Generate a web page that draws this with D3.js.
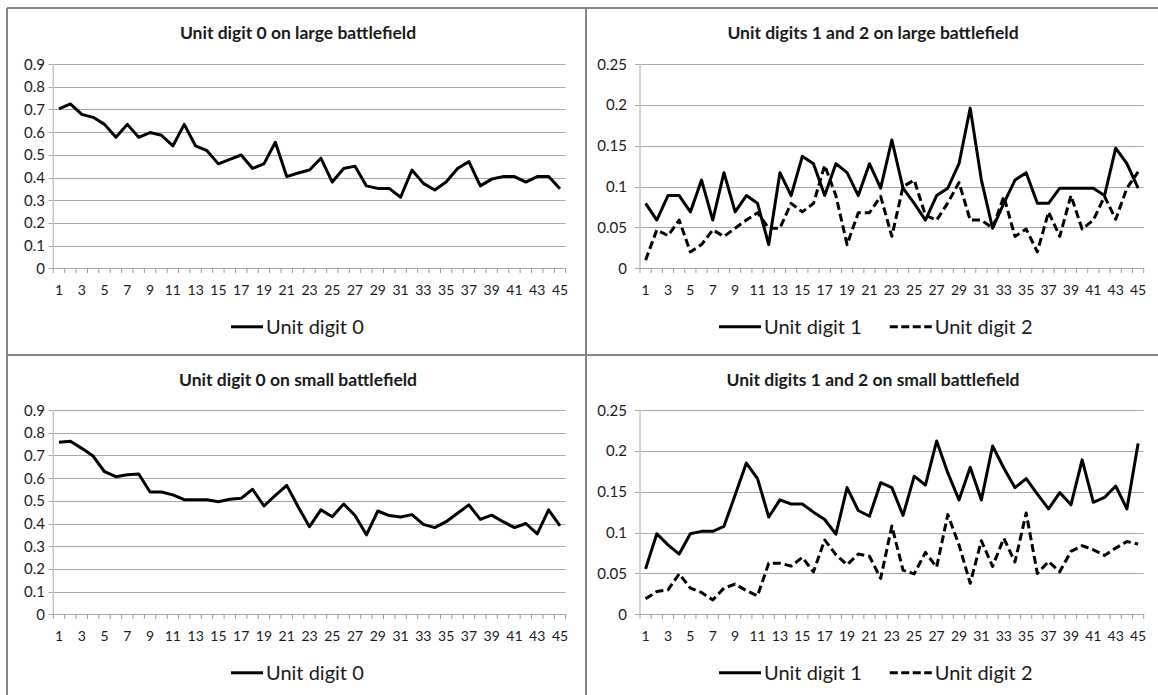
<!DOCTYPE html>
<html lang="en">
<head>
    <meta charset="UTF-8">
    <title>Unit digits on battlefields</title>
    <script src="https://d3js.org/d3.v7.min.js"></script>
    <style>
        body { margin: 0; background: #fff; }
        text { font-family: Lato, "Noto Sans", sans-serif; fill: #1a1a1a; }
        .grid line { stroke: #a8a8a8; stroke-width: 1px; }
        .series { fill: none; stroke: #000; stroke-width: 3px; stroke-linejoin: round; }
    </style>
</head>

<body>
<svg width="1158" height="695"></svg>
<script type="text/javascript">
    let categories = [1,2,3,4,5,6,7,8,9,10,11,12,13,14,15,16,17,18,19,20,21,22,23,24,25,26,27,28,29,30,31,32,33,34,35,36,37,38,39,40,41,42,43,44,45];

    let ticksDigit0 = [0, 0.1, 0.2, 0.3, 0.4, 0.5, 0.6, 0.7, 0.8, 0.9];
    let ticksDigit12 = [0, 0.05, 0.1, 0.15, 0.2, 0.25];

    let largeDigit0 = [0.702,0.724,0.678,0.665,0.634,0.577,0.634,0.577,0.598,0.586,0.539,0.634,0.539,0.518,0.46,0.48,0.499,0.44,0.46,0.555,
        0.404,0.42,0.433,0.485,0.38,0.44,0.45,0.363,0.352,0.352,0.313,0.433,0.374,0.345,0.38,0.44,0.47,0.363,0.393,0.404,0.404,0.38,0.404,0.404,0.35];

    let largeDigit1 = [0.0795,0.059,0.089,0.089,0.069,0.108,0.059,0.117,0.069,0.089,0.0795,0.029,0.117,0.089,0.137,0.128,0.089,0.128,0.117,0.089,
        0.128,0.098,0.157,0.098,0.0795,0.059,0.089,0.098,0.128,0.196,0.108,0.049,0.0795,0.108,0.117,0.0795,0.0795,0.098,0.098,0.098,0.098,0.089,0.147,0.128,0.098];

    let largeDigit2 = [0.010,0.047,0.040,0.059,0.020,0.029,0.047,0.039,0.049,0.059,0.068,0.049,0.049,0.0795,0.069,0.0795,0.126,0.089,0.029,0.068,
        0.068,0.088,0.039,0.1,0.108,0.065,0.059,0.08,0.105,0.059,0.059,0.049,0.088,0.039,0.048,0.02,0.069,0.039,0.089,0.048,0.059,0.088,0.06,0.098,0.118];

    let smallDigit0 = [0.758,0.762,0.731,0.697,0.628,0.606,0.615,0.618,0.539,0.539,0.526,0.505,0.505,0.505,0.496,0.507,0.511,0.551,0.477,0.524,
        0.568,0.474,0.386,0.46,0.43,0.486,0.435,0.35,0.455,0.435,0.429,0.439,0.396,0.382,0.408,0.445,0.482,0.418,0.437,0.408,0.382,0.40,0.354,0.46,0.39];

    let smallDigit1 = [0.0556,0.0986,0.085,0.0737,0.0986,0.1015,0.1015,0.1076,0.146,0.185,0.166,0.119,0.14,0.135,0.135,0.125,0.116,0.098,0.155,0.127,
        0.12,0.161,0.155,0.121,0.169,0.158,0.212,0.173,0.14,0.18,0.14,0.206,0.179,0.155,0.166,0.147,0.129,0.149,0.134,0.189,0.137,0.143,0.157,0.129,0.209];

    let smallDigit2 = [0.019,0.028,0.030,0.0495,0.032,0.0266,0.0176,0.032,0.037,0.029,0.0225,0.0626,0.0626,0.059,0.0696,0.052,0.091,0.073,0.0606,0.0737,
        0.071,0.044,0.108,0.054,0.0495,0.0757,0.0577,0.122,0.085,0.038,0.09,0.0585,0.093,0.064,0.124,0.050,0.0646,0.052,0.077,0.084,0.079,0.072,0.081,0.089,0.086];

    let panels = [
        {title: "Unit digit 0 on large battlefield", left: 8, top: 8, right: 586, x0: 53.3, x1: 565.7, yTop: 64, yBottom: 268.3,
            ticks: ticksDigit0, labelRight: 45, legendLine: 32, legendX: 231,
            series: [{name: "Unit digit 0", values: largeDigit0, dash: null}]},
        {title: "Unit digits 1 and 2 on large battlefield", left: 586, top: 8, right: 1158, x0: 640, x1: 1143.7, yTop: 64, yBottom: 268.3,
            ticks: ticksDigit12, labelRight: 627, legendLine: 42, legendX: 719,
            series: [{name: "Unit digit 1", values: largeDigit1, dash: null},
                     {name: "Unit digit 2", values: largeDigit2, dash: "8,4"}]},
        {title: "Unit digit 0 on small battlefield", left: 8, top: 355, right: 586, x0: 53.3, x1: 565.7, yTop: 410, yBottom: 614.3,
            ticks: ticksDigit0, labelRight: 45, legendLine: 32, legendX: 231,
            series: [{name: "Unit digit 0", values: smallDigit0, dash: null}]},
        {title: "Unit digits 1 and 2 on small battlefield", left: 586, top: 355, right: 1158, x0: 640, x1: 1143.7, yTop: 410, yBottom: 614.3,
            ticks: ticksDigit12, labelRight: 627, legendLine: 42, legendX: 719,
            series: [{name: "Unit digit 1", values: smallDigit1, dash: null},
                     {name: "Unit digit 2", values: smallDigit2, dash: "8,4"}]}
    ];

    let svg = d3.select("svg");

    function drawPanel(p) {
        let g = svg.append("g");

        let x = d3.scaleBand()
            .domain(categories)
            .range([p.x0, p.x1]);

        let y = d3.scaleLinear()
            .domain([0, d3.max(p.ticks)])
            .range([p.yBottom, p.yTop]);

        // title
        g.append("text")
            .attr("x", (p.left + p.right) / 2 + 1)
            .attr("y", p.top + 31)
            .attr("text-anchor", "middle")
            .style("font-weight", "bold")
            .style("font-size", "17.5px")
            .text(p.title);

        // horizontal gridlines
        g.append("g").attr("class", "grid")
            .selectAll("line")
            .data(p.ticks)
            .join("line")
            .attr("x1", p.x0 - 5)
            .attr("x2", p.x1)
            .attr("y1", d => Math.round(y(d)) + 0.5)
            .attr("y2", d => Math.round(y(d)) + 0.5);

        // y axis line
        g.append("line")
            .attr("x1", p.x0).attr("x2", p.x0)
            .attr("y1", p.yTop).attr("y2", p.yBottom)
            .style("stroke", "#c4c4c4").style("stroke-width", 1.5);

        // y labels
        g.append("g")
            .selectAll("text")
            .data(p.ticks)
            .join("text")
            .attr("x", p.labelRight)
            .attr("y", d => y(d) + 5.5)
            .attr("text-anchor", "end")
            .style("font-size", "15px")
            .text(d => d3.format("")(+d.toFixed(2)));

        // x axis, labels on odd categories
        let xAxis = d3.axisBottom(x)
            .tickSize(0)
            .tickFormat(d => d % 2 === 1 ? d : "");
        let ax = g.append("g")
            .attr("transform", `translate(0,${Math.round(p.yBottom) + 0.5})`)
            .call(xAxis);
        ax.select(".domain").remove();
        ax.selectAll("text")
            .attr("dy", null)
            .attr("y", 26)
            .style("font-size", "14px")
            .style("font-family", "Lato, 'Noto Sans', sans-serif");

        // tick marks between categories
        g.append("g")
            .selectAll("line")
            .data(categories.concat([0]))
            .join("line")
            .attr("x1", d => d === 0 ? p.x1 : x(d))
            .attr("x2", d => d === 0 ? p.x1 : x(d))
            .attr("y1", Math.round(p.yBottom))
            .attr("y2", Math.round(p.yBottom) + 5)
            .style("stroke", "#9a9a9a");

        // lines
        let line = d3.line()
            .x((d, i) => x(categories[i]) + x.bandwidth() / 2)
            .y(d => y(d));

        g.selectAll("path.series")
            .data(p.series)
            .join("path")
            .attr("class", "series")
            .attr("d", d => line(d.values))
            .style("stroke-dasharray", d => d.dash);

        // legend
        let legend = g.append("g");
        let cx = legend.selectAll("g")
            .data(p.series)
            .join("g");
        cx.append("line")
            .attr("x1", 0).attr("x2", p.legendLine)
            .attr("y1", 0).attr("y2", 0)
            .attr("class", "series")
            .style("stroke-dasharray", d => d.dash ? "8,3.5" : null);
        cx.append("text")
            .attr("x", p.legendLine + 3)
            .attr("y", 7)
            .style("font-size", "20px")
            .text(d => d.name);

        let offset = 0;
        cx.each(function () {
            let w = this.getBBox().width;
            d3.select(this).attr("transform", `translate(${offset},0)`);
            offset += w + 28;
        });
        legend.attr("transform", `translate(${p.legendX},${p.yBottom + 58.5})`);
    }

    panels.forEach(drawPanel);

    // panel borders
    let border = svg.append("g")
        .style("stroke", "#858585")
        .style("stroke-width", 2);
    border.append("line").attr("x1", 7).attr("x2", 1158).attr("y1", 8).attr("y2", 8);
    border.append("line").attr("x1", 7).attr("x2", 7).attr("y1", 8).attr("y2", 695);
    border.append("line").attr("x1", 586).attr("x2", 586).attr("y1", 8).attr("y2", 695);
    border.append("line").attr("x1", 7).attr("x2", 1158).attr("y1", 355).attr("y2", 355);
</script>
</body>
</html>
